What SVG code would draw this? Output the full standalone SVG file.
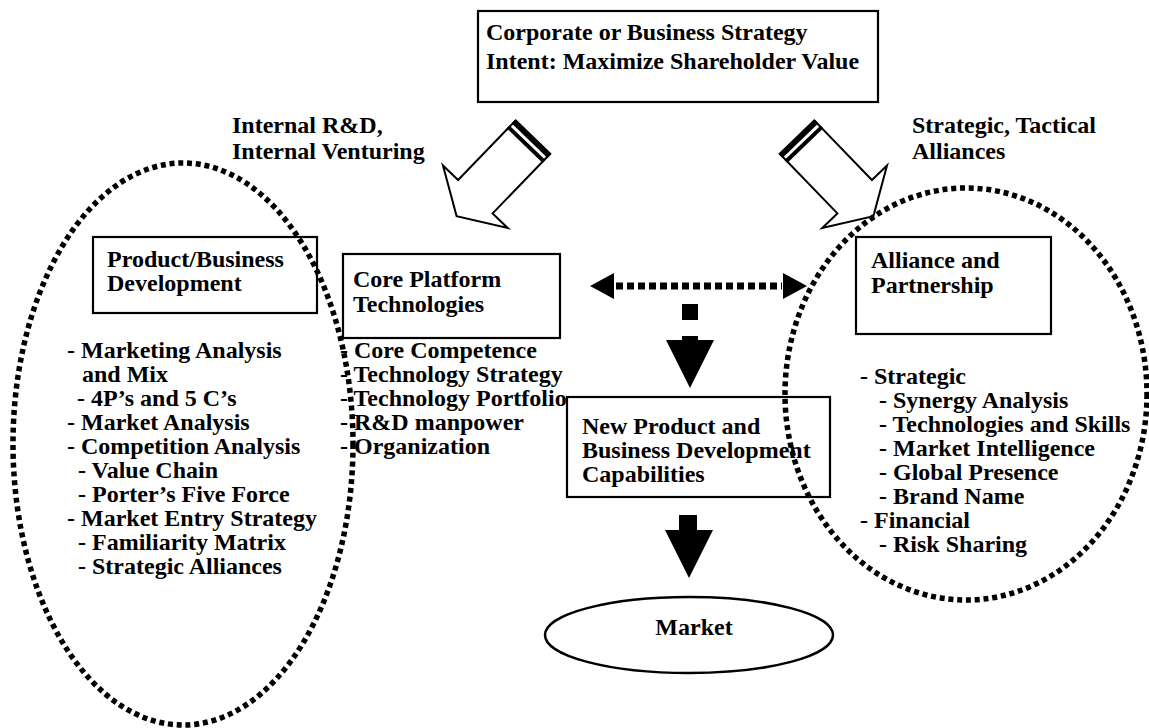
<svg xmlns="http://www.w3.org/2000/svg" width="1149" height="728" viewBox="0 0 1149 728">
  <style>
    .box { fill: #fff; stroke: #000; stroke-width: 2.2; }
    .lbl { font-family: "Liberation Serif", "Times New Roman", serif; font-weight: bold; font-size: 24px; fill: #000; }
    .region { fill: none; stroke: #000; stroke-width: 5.5; stroke-dasharray: 5 3.8; }
    .solid { fill: #000; stroke: none; }
    .hollow { fill: #fff; stroke: #000; stroke-width: 2; stroke-linejoin: miter; }
  </style>
  <defs>
    <!-- striped block arrow pointing along +x, tail at the origin -->
    <g id="striped-arrow">
      <path class="hollow" d="M0,-24 L83,-24 L83,-45 L110,0 L83,45 L83,24 L0,24 Z"/>
      <rect class="solid" x="0" y="-25" width="5" height="50"/>
      <rect class="solid" x="8" y="-25" width="4" height="50"/>
    </g>
  </defs>

  <rect width="1149" height="728" fill="#fff"/>

  <!-- connectors -->
  <g id="connectors">
    <!-- strategy feeds: internal (left) and alliances (right) -->
    <use href="#striped-arrow" transform="translate(533,137) scale(-1,1) rotate(46)"/>
    <use href="#striped-arrow" transform="translate(797,137) rotate(46)"/>
    <!-- two-way dotted link between core technologies and alliances -->
    <line x1="616" y1="286" x2="782" y2="286" stroke="#000" stroke-width="7" stroke-dasharray="7 4"/>
    <polygon class="solid" points="590,286 614,273 614,299"/>
    <polygon class="solid" points="807,286 783,273 783,299"/>
    <!-- dashed feed down into capabilities -->
    <rect class="solid" x="682" y="304" width="16" height="16"/>
    <polygon class="solid" points="682,336 698,336 698,340 714,340 690,388 666,340 682,340"/>
    <!-- capabilities to market -->
    <polygon class="solid" points="679,515 697,515 697,530 713,530 689,578 665,530 679,530"/>
  </g>

  <g id="strategy">
    <rect class="box" x="478" y="11" width="400" height="91"/>
    <text class="lbl" x="486" y="40">Corporate or Business Strategy</text>
    <text class="lbl" x="486" y="69">Intent: Maximize Shareholder Value</text>
  </g>

  <g id="internal-label">
    <text class="lbl" x="232" y="133">Internal R&amp;D,</text>
    <text class="lbl" x="232" y="159">Internal Venturing</text>
  </g>

  <g id="alliance-label">
    <text class="lbl" x="912" y="133">Strategic, Tactical</text>
    <text class="lbl" x="912" y="159">Alliances</text>
  </g>

  <g id="product-dev">
    <rect class="box" x="93" y="237" width="224" height="76"/>
    <text class="lbl" x="107" y="267">Product/Business</text>
    <text class="lbl" x="107" y="291">Development</text>
    <text class="lbl" x="67" y="358">- Marketing Analysis</text>
    <text class="lbl" x="82" y="382">and Mix</text>
    <text class="lbl" x="77" y="406">- 4P’s and 5 C’s</text>
    <text class="lbl" x="67" y="430">- Market Analysis</text>
    <text class="lbl" x="67" y="454">- Competition Analysis</text>
    <text class="lbl" x="78" y="478">- Value Chain</text>
    <text class="lbl" x="78" y="502">- Porter’s Five Force</text>
    <text class="lbl" x="67" y="526">- Market Entry Strategy</text>
    <text class="lbl" x="78" y="550">- Familiarity Matrix</text>
    <text class="lbl" x="78" y="574">- Strategic Alliances</text>
  </g>

  <g id="core-platform">
    <rect class="box" x="343" y="254" width="217" height="84"/>
    <text class="lbl" x="353" y="287">Core Platform</text>
    <text class="lbl" x="353" y="312">Technologies</text>
    <text class="lbl" x="340" y="358">- Core Competence</text>
    <text class="lbl" x="340" y="382">- Technology Strategy</text>
    <text class="lbl" x="340" y="406">- Technology Portfolio</text>
    <text class="lbl" x="340" y="430">- R&amp;D manpower</text>
    <text class="lbl" x="340" y="454">- Organization</text>
  </g>

  <g id="new-product">
    <rect class="box" x="567" y="397" width="263" height="100"/>
    <text class="lbl" x="582" y="434">New Product and</text>
    <text class="lbl" x="582" y="458">Business Development</text>
    <text class="lbl" x="582" y="482">Capabilities</text>
  </g>

  <g id="alliance">
    <rect class="box" x="856" y="237" width="195" height="97"/>
    <text class="lbl" x="871" y="268">Alliance and</text>
    <text class="lbl" x="871" y="293">Partnership</text>
    <text class="lbl" x="860" y="384">- Strategic</text>
    <text class="lbl" x="879" y="408">- Synergy Analysis</text>
    <text class="lbl" x="879" y="432">- Technologies and Skills</text>
    <text class="lbl" x="879" y="456">- Market Intelligence</text>
    <text class="lbl" x="879" y="480">- Global Presence</text>
    <text class="lbl" x="879" y="504">- Brand Name</text>
    <text class="lbl" x="860" y="528">- Financial</text>
    <text class="lbl" x="879" y="552">- Risk Sharing</text>
  </g>

  <g id="market">
    <ellipse cx="689" cy="635" rx="144" ry="38" fill="#fff" stroke="#000" stroke-width="2.5"/>
    <text class="lbl" x="694" y="635" text-anchor="middle">Market</text>
  </g>

  <!-- dotted groupings drawn over boxes and text -->
  <g id="product-region">
    <ellipse class="region" cx="183" cy="444" rx="170" ry="281"/>
  </g>
  <g id="alliance-region">
    <ellipse class="region" cx="966" cy="394" rx="181" ry="206"/>
  </g>
</svg>
